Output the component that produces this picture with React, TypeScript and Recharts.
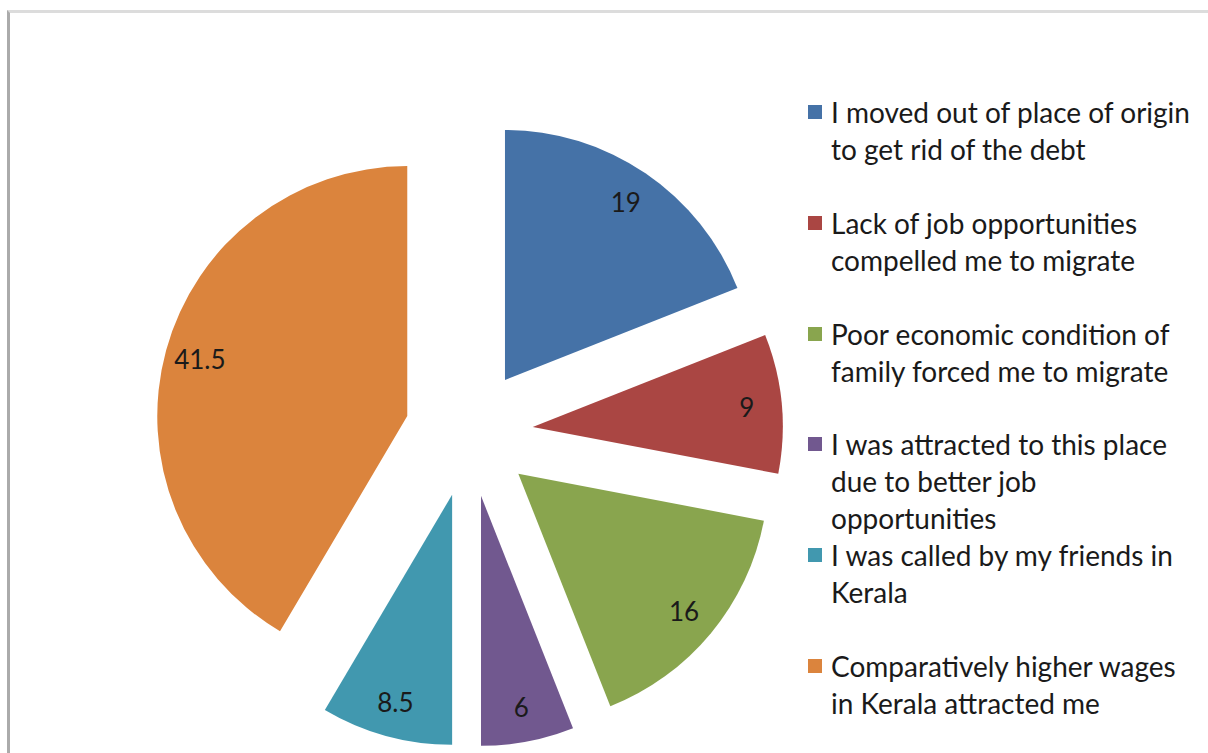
import { PieChart, Pie, Sector, Legend } from 'recharts';

const REASONS = [
  'I moved out of place of origin\nto get rid of the debt',
  'Lack of job opportunities\ncompelled me to migrate',
  'Poor economic condition of\nfamily forced me to migrate',
  'I was attracted to this place\ndue to better job\nopportunities',
  'I was called by my friends in\nKerala',
  'Comparatively higher wages\nin Kerala attracted me',
];
const SHARES = [19, 9, 16, 6, 8.5, 41.5];
const COLORS = ['#4572A7', '#AA4643', '#89A54E', '#71588F', '#4198AF', '#DB843D'];

const data = REASONS.map((name, i) => ({ name, value: SHARES[i] }));

const FONT = 'Lato, "Open Sans", sans-serif';
const RAD = Math.PI / 180;
const EXPLODE = 64;

// recharts has no exploded pie, so the real sectors are hidden and each one
// is redrawn, pushed out along its mid angle, from the label callback
const ExplodedSlice = (props: any) => {
  const { cx, cy, midAngle, innerRadius, outerRadius, startAngle, endAngle, index, value } = props;
  const dx = EXPLODE * Math.cos(-midAngle * RAD);
  const dy = EXPLODE * Math.sin(-midAngle * RAD);
  const ox = cx + dx;
  const oy = cy + dy;
  const lr = outerRadius * 0.86;
  const tx = ox + lr * Math.cos(-midAngle * RAD);
  const ty = oy + lr * Math.sin(-midAngle * RAD);
  return (
    <g>
      <Sector
        cx={ox}
        cy={oy}
        innerRadius={innerRadius}
        outerRadius={outerRadius}
        startAngle={startAngle}
        endAngle={endAngle}
        fill={COLORS[index]}
        stroke="none"
      />
      <text
        x={tx}
        y={ty}
        textAnchor="middle"
        dominantBaseline="central"
        fill="#1a1a1a"
        fontSize={26}
        fontFamily={FONT}
      >
        {value}
      </text>
    </g>
  );
};

const LegendBox = ({ payload }: any) => (
  <div style={{ fontFamily: FONT, fontSize: 28, lineHeight: '37px', color: '#1a1a1a' }}>
    {(payload ?? []).map((p: any) => {
      const i = REASONS.indexOf(p.value);
      return (
        <div key={p.value} style={{ display: 'flex', height: 110.8 }}>
          <span
            style={{
              display: 'inline-block',
              width: 14,
              height: 14,
              marginTop: 11,
              marginRight: 9,
              background: COLORS[i],
              flex: 'none',
            }}
          />
          <span style={{ whiteSpace: 'pre-line' }}>{p.value}</span>
        </div>
      );
    })}
  </div>
);

export default function App() {
  return (
    <div style={{ position: 'absolute', left: 0, top: 0, width: 1208, height: 753, background: '#fff', overflow: 'hidden' }}>
      <div
        style={{
          position: 'absolute',
          left: 7,
          top: 10,
          width: 1201,
          height: 743,
          borderLeft: '3px solid #ababab',
          borderTop: '3px solid #dcdcdc',
          boxSizing: 'border-box',
        }}
      />
      <div style={{ position: 'absolute', left: 0, top: 0 }}>
        <PieChart width={1208} height={753} margin={{ top: 0, right: 0, bottom: 0, left: 0 }}>
          <Pie
            data={data}
            dataKey="value"
            nameKey="name"
            cx={469}
            cy={433}
            outerRadius={250}
            startAngle={90}
            endAngle={-270}
            fill="transparent"
            stroke="none"
            label={ExplodedSlice}
            labelLine={false}
            isAnimationActive={false}
          />
          <Legend
            content={<LegendBox />}
            itemSorter={null}
            wrapperStyle={{ position: 'absolute', left: 808, top: 94, width: 400 }}
          />
        </PieChart>
      </div>
    </div>
  );
}
